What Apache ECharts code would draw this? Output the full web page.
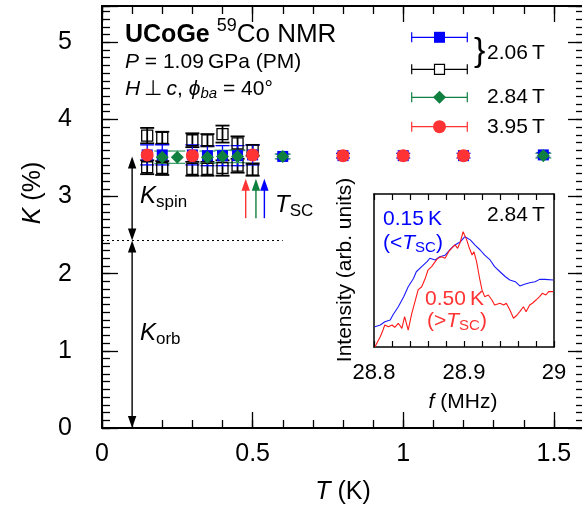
<!DOCTYPE html>
<html><head><meta charset="utf-8">
<script src="https://cdn.jsdelivr.net/npm/echarts@6/dist/echarts.min.js"></script>
<style>html,body{margin:0;padding:0;background:#fff}#c{width:582px;height:508px}</style>
</head><body><div id="c"></div>
<script>
// ---- main panel data: Knight shift K (%) vs T (K) ----
const T_blue = [0.15,0.2,0.3,0.35,0.4,0.45,0.5,0.6,0.8,1.0,1.2,1.465];
const K_blue = [3.54,3.54,3.54,3.53,3.53,3.53,3.54,3.52,3.53,3.53,3.53,3.54];
const E_blue = [0.13,0.13,0.13,0.13,0.13,0.13,0.13,0.03,0.03,0.03,0.03,0.03];

const T_open = [0.15,0.2,0.3,0.35,0.4,0.45,0.5];
const K_openHigh = [3.79,3.76,3.73,3.73,3.81,3.69,3.60];
const E_openHigh = [0.10,0.08,0.09,0.08,0.11,0.09,0.07];
const K_openLow = [3.38,3.37,3.36,3.36,3.37,3.40,3.35];
const E_openLow = [0.09,0.09,0.09,0.09,0.10,0.09,0.08];

const T_green = [0.2,0.25,0.35,0.4,0.45,0.6,1.465];
const K_green = [3.51,3.51,3.51,3.52,3.52,3.52,3.53];
const E_green = [0.08,0.08,0.08,0.08,0.08,0.03,0.03];

const T_red = [0.15,0.3,0.5,0.8,1.0,1.2];
const K_red = [3.54,3.53,3.54,3.53,3.53,3.53];
const E_red = [0.03,0.03,0.03,0.03,0.03,0.03];

// annotation arrows (T position, K from, K to, double-headed, colour)
const arrowT = [0.1, 0.1, 0.477, 0.511, 0.539];
const arrowFrom = [2.43, 0, 2.72, 2.72, 2.72];
const arrowTo = [3.52, 2.43, 3.23, 3.23, 3.23];
const arrowBoth = [1, 1, 0, 0, 0];
const arrowColor = ['#000000','#000000','#ff3333','#108040','#0000ff'];
const K_split = 2.43;          // Korb / Kspin boundary (dotted line)
const splitLineEndT = 0.6;

// tick labels
const xTickLabels = ['0','0.5','1','1.5'];
const yTickLabels = ['0','1','2','3','4','5'];
const insetTickLabels = ['28.8','28.9','29'];

// ---- inset spectra: intensity (arb.) vs f (MHz) ----
const fBlue = [28.801,28.807,28.812,28.818,28.821,28.827,28.833,28.838,28.844,28.847,28.853,28.859,28.862,28.868,28.873,28.879,28.884,28.890,28.896,28.901,28.907,28.912,28.918,28.923,28.929,28.934,28.940,28.946,28.951,28.957,28.962,28.968,28.973,28.979,28.984,28.990,28.999];
const iBlue = [0.133,0.144,0.165,0.176,0.209,0.263,0.329,0.394,0.449,0.492,0.525,0.558,0.580,0.569,0.590,0.600,0.634,0.667,0.688,0.721,0.700,0.667,0.634,0.600,0.569,0.525,0.492,0.459,0.438,0.427,0.399,0.412,0.420,0.427,0.442,0.442,0.438];
const fRed = [28.801,28.804,28.807,28.810,28.812,28.816,28.820,28.823,28.827,28.831,28.834,28.838,28.842,28.846,28.849,28.853,28.857,28.860,28.864,28.868,28.871,28.875,28.879,28.883,28.886,28.890,28.893,28.896,28.899,28.900,28.903,28.906,28.909,28.911,28.914,28.917,28.920,28.923,28.927,28.931,28.934,28.936,28.940,28.944,28.947,28.951,28.955,28.959,28.962,28.966,28.969,28.973,28.976,28.980,28.984,28.987,28.991,28.994,28.999];
const iRed = [0.000,0.035,0.067,0.111,0.144,0.133,0.144,0.129,0.155,0.122,0.198,0.111,0.220,0.307,0.373,0.394,0.449,0.503,0.525,0.558,0.580,0.590,0.580,0.623,0.645,0.667,0.645,0.688,0.754,0.765,0.700,0.645,0.601,0.623,0.558,0.459,0.373,0.329,0.340,0.307,0.275,0.263,0.286,0.275,0.286,0.242,0.188,0.209,0.231,0.263,0.231,0.275,0.286,0.307,0.329,0.351,0.340,0.362,0.362];

// ---------------------------------------------------------------
const FONT = 'Liberation Sans';
const BLUE = '#0000ff', GREEN = '#108040', RED = '#ff3333', BLACK = '#000000';
const mctx = document.createElement('canvas').getContext('2d');
function fontOf(p){ return (p.italic?'italic ':'') + (p.bold?'bold ':'') + p.size + 'px "' + FONT + '"'; }
function measure(p){ mctx.font = fontOf(p); return mctx.measureText(p.t).width; }
function textLine(x, yc, pieces, color, align){
  let total = 0;
  pieces.forEach(p => { p.w = measure(p); total += p.w; });
  let cx = align === 'center' ? x - total/2 : x;
  return pieces.map(p => {
    const e = {type:'text', x:cx, y:yc + (p.dy||0), z:100, silent:true,
      style:{text:p.t, fontSize:p.size, fontFamily:FONT, fontStyle:p.italic?'italic':'normal',
        fontWeight:p.bold?'bold':'normal', fill:p.color||color,
        textAlign:'left', align:'left', textVerticalAlign:'middle', verticalAlign:'middle'}};
    cx += p.w; return e;
  });
}

function errSeries(T, K, E, color, capW, lw){
  return {type:'custom', xAxisIndex:0, yAxisIndex:0, z:2, silent:true,
    data:T.map((t,i)=>[t,K[i],E[i]]), encode:{x:0,y:1},
    renderItem:(params, api)=>{
      const x=api.value(0), y=api.value(1), e=api.value(2);
      const a=api.coord([x,y+e]), b=api.coord([x,y-e]);
      const st={stroke:color, lineWidth:lw};
      return {type:'group', children:[
        {type:'line', shape:{x1:a[0],y1:a[1],x2:b[0],y2:b[1]}, style:st},
        {type:'line', shape:{x1:a[0]-capW/2,y1:a[1],x2:a[0]+capW/2,y2:a[1]}, style:st},
        {type:'line', shape:{x1:b[0]-capW/2,y1:b[1],x2:b[0]+capW/2,y2:b[1]}, style:st}
      ]};
    }};
}
function scatter(T, K, symbol, size, itemStyle){
  return {type:'scatter', xAxisIndex:0, yAxisIndex:0, z:2, silent:true,
    data:T.map((t,i)=>[t,K[i]]), symbol, symbolSize:size, itemStyle:Object.assign({opacity:1}, itemStyle)};
}

const tickStyle = {color:'#000', width:1.3};
function mainX(pos, interval, len, major, labels){
  return {gridIndex:0, type:'value', position:pos, min:0, max:1.6, interval,
    axisLine:{show:major, onZero:false, lineStyle:{color:'#000', width:2}},
    axisTick:{show:true, inside:true, length:len, lineStyle:tickStyle},
    axisLabel:{show:labels, interval:0, margin:14, fontSize:25, fontFamily:FONT, color:'#000',
      formatter:v=>{ const k=Math.round(v*2); return Math.abs(v*2-k)<1e-6 && xTickLabels[k]!==undefined ? xTickLabels[k] : ''; }},
    splitLine:{show:false}};
}
function mainY(pos, interval, len, major, labels){
  return {gridIndex:0, type:'value', position:pos, min:0, max:5.47, interval,
    axisLine:{show:major, onZero:false, lineStyle:{color:'#000', width:2}},
    axisTick:{show:true, inside:true, length:len, lineStyle:tickStyle},
    axisLabel:{show:labels, interval:0, margin:30, fontSize:25, fontFamily:FONT, color:'#000',
      formatter:v=>{ const k=Math.round(v); return Math.abs(v-k)<1e-6 && yTickLabels[k]!==undefined ? yTickLabels[k] : ''; }},
    splitLine:{show:false}};
}
function insetX(pos, labels){
  return {gridIndex:1, type:'value', position:pos, min:28.8, max:29.0, interval:0.02,
    axisLine:{show:true, onZero:false, lineStyle:{color:'#000', width:1.5}},
    axisTick:{show:true, inside:true, length:6, lineStyle:{color:'#000', width:1.2}},
    axisLabel:{show:labels, interval:0, margin:15, fontSize:22, fontFamily:FONT, color:'#000',
      formatter:v=>{ const k=Math.round((v-28.8)*10); return Math.abs((v-28.8)*10-k)<1e-4 && insetTickLabels[k]!==undefined ? insetTickLabels[k] : ''; }},
    splitLine:{show:false}};
}
function insetY(pos){
  return {gridIndex:1, type:'value', position:pos, min:0, max:1,
    axisLine:{show:true, onZero:false, lineStyle:{color:'#000', width:1.5}},
    axisTick:{show:false}, axisLabel:{show:false}, splitLine:{show:false}};
}

// ---- graphic text and legend ----
const G = [];
const S = 21;
G.push(...textLine(125, 35, [{t:'UCoGe', size:25, bold:true},{t:' ', size:25},{t:'59', size:18, dy:-9},{t:'Co NMR', size:26}], BLACK));
G.push(...textLine(125, 62, [{t:'P', size:S, italic:true},{t:' = 1.09\u2009GPa (PM)', size:S}], BLACK));
G.push(...textLine(125, 89, [{t:'H', size:S, italic:true},{t:'\u2009\u22A5\u2009', size:S},{t:'c', size:S, italic:true},{t:', ', size:S},{t:'\u03D5', size:S, italic:true},{t:'ba', size:15, italic:true, dy:5},{t:' = 40\u00B0', size:S}], BLACK));
// axis titles
G.push(...textLine(343, 492, [{t:'T', size:25, italic:true},{t:' (K)', size:25}], BLACK, 'center'));
G.push({type:'group', x:33, y:193, rotation:Math.PI/2, children:textLine(0, 0, [{t:'K', size:25, italic:true},{t:' (%)', size:25}], BLACK, 'center')});
// main annotations
G.push(...textLine(140, 196, [{t:'K', size:24, italic:true},{t:'spin', size:17, dy:6}], BLACK));
G.push(...textLine(140, 333, [{t:'K', size:24, italic:true},{t:'orb', size:17, dy:6}], BLACK));
G.push(...textLine(275, 205, [{t:'T', size:24, italic:true},{t:'SC', size:17, dy:6}], BLACK));
// inset labels
G.push(...textLine(463, 402, [{t:'f', size:21, italic:true},{t:' (MHz)', size:21}], BLACK, 'center'));
G.push({type:'group', x:345, y:270, rotation:Math.PI/2, children:textLine(0, 0, [{t:'Intensity (arb. units)', size:21}], BLACK, 'center')});
G.push(...textLine(383, 219, [{t:'0.15\u2009K', size:21}], BLUE));
G.push(...textLine(383, 243, [{t:'(<', size:21},{t:'T', size:21, italic:true},{t:'SC', size:15, dy:5},{t:')', size:21}], BLUE));
G.push(...textLine(487, 215, [{t:'2.84\u2009T', size:21}], BLACK));
G.push(...textLine(425, 299, [{t:'0.50\u2009K', size:21}], RED));
G.push(...textLine(427, 321, [{t:'(>', size:21},{t:'T', size:21, italic:true},{t:'SC', size:15, dy:5},{t:')', size:21}], RED));
// legend
const legRows = [37.3, 69.3, 97.3, 126.7];
const legCols = [BLUE, BLACK, GREEN, RED];
const lx1 = 411.7, lx2 = 467.3, lxc = 439.5;
legRows.forEach((y,i)=>{
  const st = {stroke:legCols[i], lineWidth:1.2};
  G.push({type:'line', z:100, silent:true, shape:{x1:lx1,y1:y,x2:lx2,y2:y}, style:st});
  G.push({type:'line', z:100, silent:true, shape:{x1:lx1,y1:y-5,x2:lx1,y2:y+5}, style:st});
  G.push({type:'line', z:100, silent:true, shape:{x1:lx2,y1:y-5,x2:lx2,y2:y+5}, style:st});
});
G.push({type:'rect', z:101, silent:true, shape:{x:lxc-5.5, y:legRows[0]-5.5, width:11, height:11}, style:{fill:BLUE}});
G.push({type:'rect', z:101, silent:true, shape:{x:lxc-5, y:legRows[1]-5, width:10, height:10}, style:{fill:'#fff', stroke:BLACK, lineWidth:1.2}});
G.push({type:'polygon', z:101, silent:true, shape:{points:[[lxc,legRows[2]-6.5],[lxc+6.5,legRows[2]],[lxc,legRows[2]+6.5],[lxc-6.5,legRows[2]]]}, style:{fill:GREEN}});
G.push({type:'circle', z:101, silent:true, shape:{cx:lxc, cy:legRows[3], r:6.5}, style:{fill:RED}});
G.push({type:'text', z:100, silent:true, x:474, y:52, style:{text:'}', fontSize:34, fontFamily:FONT, fill:BLACK, textAlign:'left', align:'left', textVerticalAlign:'middle', verticalAlign:'middle'}});
G.push(...textLine(487, 53, [{t:'2.06\u2009T', size:21}], BLACK));
G.push(...textLine(487, 97, [{t:'2.84\u2009T', size:21}], BLACK));
G.push(...textLine(487, 127, [{t:'3.95\u2009T', size:21}], BLACK));

// ---- series ----
const series = [
  // dotted Korb/Kspin boundary
  {type:'custom', xAxisIndex:0, yAxisIndex:0, z:1, silent:true, data:[[0, K_split, splitLineEndT]], encode:{x:0,y:1},
    renderItem:(p, api)=>{ const a=api.coord([api.value(0),api.value(1)]), b=api.coord([api.value(2),api.value(1)]);
      return {type:'line', shape:{x1:a[0],y1:a[1],x2:b[0],y2:b[1]}, style:{stroke:'#000', lineWidth:1, lineDash:[2,3]}}; }},
  // arrows
  {type:'custom', xAxisIndex:0, yAxisIndex:0, z:1, silent:true,
    data:arrowT.map((t,i)=>[t, arrowFrom[i], arrowTo[i], arrowBoth[i], i]), encode:{x:0,y:1},
    renderItem:(p, api)=>{
      const x=api.value(0), lo=api.coord([x,api.value(1)]), hi=api.coord([x,api.value(2)]);
      const both=api.value(3), c=arrowColor[api.value(4)];
      const hl=12, hw=4.2;
      const ch=[{type:'line', shape:{x1:lo[0],y1:both?lo[1]-hl+1:lo[1],x2:hi[0],y2:hi[1]+hl-1}, style:{stroke:c, lineWidth:1.4}},
        {type:'polygon', shape:{points:[[hi[0],hi[1]],[hi[0]-hw,hi[1]+hl],[hi[0]+hw,hi[1]+hl]]}, style:{fill:c}}];
      if (both) ch.push({type:'polygon', shape:{points:[[lo[0],lo[1]],[lo[0]-hw,lo[1]-hl],[lo[0]+hw,lo[1]-hl]]}, style:{fill:c}});
      return {type:'group', children:ch};
    }},
  errSeries(T_open, K_openHigh, E_openHigh, BLACK, 14, 1.8),
  errSeries(T_open, K_openLow, E_openLow, BLACK, 14, 1.8),
  scatter(T_open, K_openHigh, 'rect', 11, {color:'rgba(0,0,0,0)', borderColor:BLACK, borderWidth:1.3}),
  scatter(T_open, K_openLow, 'rect', 11, {color:'rgba(0,0,0,0)', borderColor:BLACK, borderWidth:1.3}),
  errSeries(T_blue, K_blue, E_blue, BLUE, 14, 1.3),
  scatter(T_blue, K_blue, 'rect', 11, {color:BLUE}),
  errSeries(T_green, K_green, E_green, '#3f9f6a', 16, 1.3),
  scatter(T_green, K_green, 'diamond', 13, {color:GREEN}),
  errSeries(T_red, K_red, E_red, RED, 12, 1.3),
  scatter(T_red, K_red, 'circle', 13, {color:RED}),
  // inset spectra
  {type:'line', xAxisIndex:4, yAxisIndex:4, z:3, silent:true, showSymbol:false, symbol:'none',
    data:fBlue.map((f,i)=>[f,iBlue[i]]), lineStyle:{color:'#1a1aff', width:1.1}},
  {type:'line', xAxisIndex:4, yAxisIndex:4, z:3, silent:true, showSymbol:false, symbol:'none',
    data:fRed.map((f,i)=>[f,iRed[i]]), lineStyle:{color:'#ff1a1a', width:1.1}}
];

const chart = echarts.init(document.getElementById('c'), null, {renderer:'canvas', width:582, height:508});
chart.setOption({
  animation:false,
  backgroundColor:'#fff',
  textStyle:{fontFamily:FONT},
  grid:[
    {left:102, top:6, width:482, height:422, containLabel:false, outerBoundsMode:'none'},
    {left:374, top:194, width:180, height:153, containLabel:false, outerBoundsMode:'none', show:true, backgroundColor:'#fff', borderWidth:0}
  ],
  xAxis:[
    mainX('bottom', 0.5, 16, true, true),
    mainX('bottom', 0.1, 8, false, false),
    mainX('top', 0.5, 16, true, false),
    mainX('top', 0.1, 8, false, false),
    insetX('bottom', true),
    insetX('top', false)
  ],
  yAxis:[
    mainY('left', 1, 16, true, true),
    mainY('left', 0.1, 8, false, false),
    mainY('right', 1, 16, true, false),
    mainY('right', 0.1, 8, false, false),
    insetY('left'),
    insetY('right')
  ],
  series,
  graphic:G
});
</script></body></html>
